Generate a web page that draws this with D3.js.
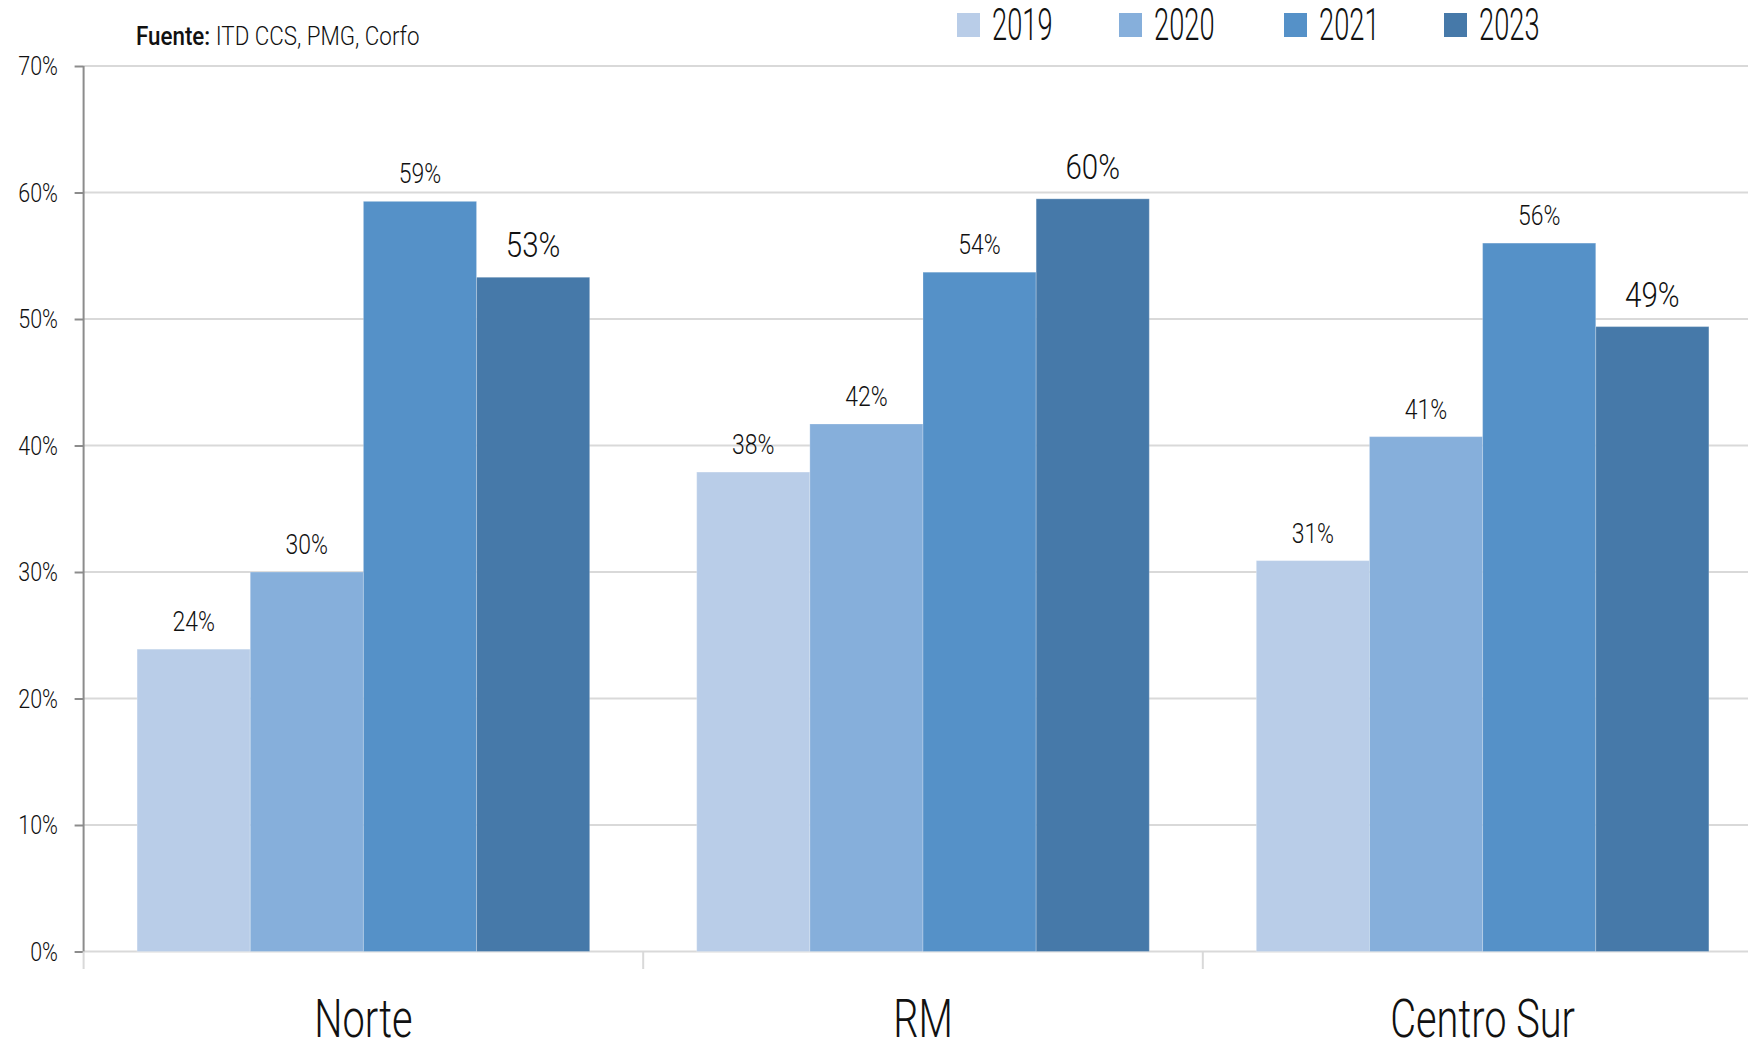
<!DOCTYPE html>
<html><head><meta charset="utf-8">
<script src="https://cdn.jsdelivr.net/npm/d3@7"></script>
<style>
html,body{margin:0;padding:0;background:#fff;}
text{font-family:Roboto,"Liberation Sans Narrow",sans-serif;font-weight:300;fill:#111;}
</style></head>
<body>
<svg id="c" width="1748" height="1048"></svg>
<script>
const categories = ["Norte", "RM", "Centro Sur"];
const years = ["2019", "2020", "2021", "2023"];
const v2019 = [0.239, 0.379, 0.309];
const v2020 = [0.300, 0.417, 0.407];
const v2021 = [0.593, 0.537, 0.560];
const v2023 = [0.533, 0.595, 0.494];
const labels2019 = ["24%", "38%", "31%"];
const labels2020 = ["30%", "42%", "41%"];
const labels2021 = ["59%", "54%", "56%"];
const labels2023 = ["53%", "60%", "49%"];
const yTicks = [0, 0.1, 0.2, 0.3, 0.4, 0.5, 0.6, 0.7];
const colors = ["#b9cde8", "#86afdb", "#5591c8", "#4679a9"];
const sourceBold = "Fuente:";
const sourceText = " ITD CCS, PMG, Corfo";

const seriesVals = [v2019, v2020, v2021, v2023];
const seriesLabels = [labels2019, labels2020, labels2021, labels2023];
const data = categories.map((c, i) => ({
  cat: c,
  bars: years.map((y, j) => ({year: y, value: seriesVals[j][i], label: seriesLabels[j][i], j}))
}));

const svg = d3.select("#c");
function txt(g, x, y, s, size, anchor, sx) {
  return g.append("text")
    .attr("transform", `translate(${x},${y}) scale(${sx},1)`)
    .attr("text-anchor", anchor || "start")
    .attr("font-size", size)
    .text(s);
}

const axisX = 83.6;
const x0 = d3.scaleBand().domain(categories).range([axisX, axisX + 3 * 559.6]);
const bw = x0.bandwidth();
const x1 = d3.scaleBand().domain(years).range([53.5, bw - 53.5]);
const y = d3.scaleLinear().domain([0, 0.7]).range([951.5, 66]);

// gridlines
svg.append("g").selectAll("line").data(yTicks).join("line")
  .attr("x1", axisX).attr("x2", 1748)
  .attr("y1", d => y(d)).attr("y2", d => y(d))
  .attr("stroke", "#d9d9d9").attr("stroke-width", 2);

// y axis via d3.axisLeft
const yAxis = d3.axisLeft(y).tickValues(yTicks).tickSize(9).tickPadding(0).tickFormat(() => "");
const ya = svg.append("g").attr("transform", `translate(${axisX},0)`).call(yAxis);
ya.select(".domain").remove();
ya.selectAll(".tick line").attr("stroke", "#8c8c8c").attr("stroke-width", 2);
svg.append("line").attr("x1", axisX).attr("x2", axisX).attr("y1", y(0.7)).attr("y2", y(0))
  .attr("stroke", "#8c8c8c").attr("stroke-width", 2);
const yl = svg.append("g");
yTicks.forEach(t => txt(yl, 58, y(t) + 9, d3.format(".0%")(t), 25, "end", 0.86));

// category dividers
const divs = [axisX, x0("RM"), x0("Centro Sur")];
svg.append("g").selectAll("line").data(divs).join("line")
  .attr("x1", d => d).attr("x2", d => d).attr("y1", y(0)).attr("y2", 969)
  .attr("stroke", "#d9d9d9").attr("stroke-width", 2);

// bars
const groups = svg.append("g").selectAll("g").data(data).join("g")
  .attr("transform", d => `translate(${x0(d.cat)},0)`);
groups.selectAll("rect").data(d => d.bars).join("rect")
  .attr("x", b => x1(b.year)).attr("width", x1.bandwidth())
  .attr("y", b => y(b.value)).attr("height", b => y(0) - y(b.value))
  .attr("fill", b => colors[b.j])
  .attr("stroke", "#ffffff").attr("stroke-opacity", 0.25).attr("stroke-width", 1);

// value labels
groups.each(function(d) {
  const g = d3.select(this);
  d.bars.forEach(b => {
    const big = b.j === 3;
    txt(g, x1(b.year) + x1.bandwidth() / 2, y(b.value) - (big ? 20 : 18), b.label, big ? 36 : 28, "middle", 0.82);
  });
});

// x labels
const xl = svg.append("g");
categories.forEach(c => txt(xl, x0(c) + bw / 2, 1037, c, 53, "middle", 0.75));

// source
const st = svg.append("text")
  .attr("transform", `translate(136,45) scale(0.86,1)`).attr("font-size", 26);
st.append("tspan").attr("font-weight", 500).text(sourceBold);
st.append("tspan").text(sourceText);

// legend
const legX = [957, 1119, 1284, 1444];
const lg = svg.append("g");
years.forEach((yr, i) => {
  lg.append("rect").attr("x", legX[i]).attr("y", 13).attr("width", 23).attr("height", 24).attr("fill", colors[i]);
  txt(lg, legX[i] + 35, 40, yr, 44, "start", 0.62);
});
</script>
</body></html>
